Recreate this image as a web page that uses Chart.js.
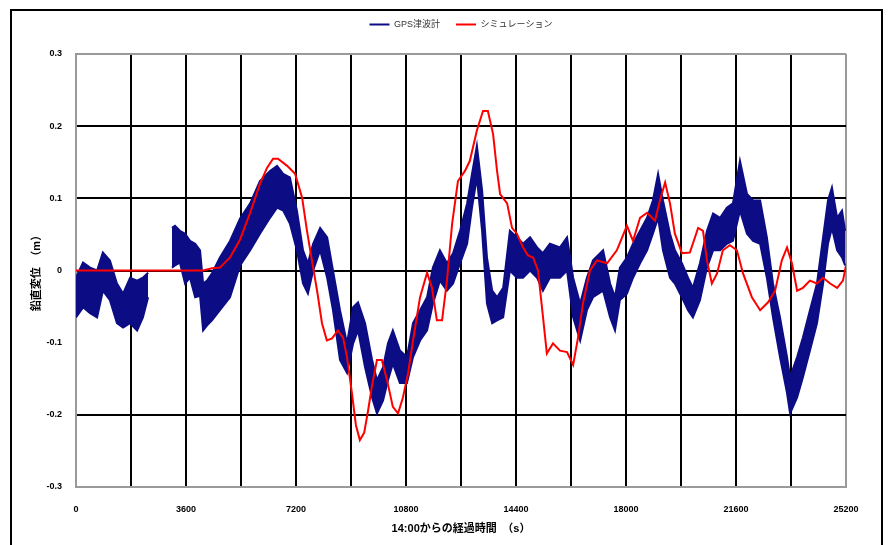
<!DOCTYPE html>
<html lang="ja">
<head>
<meta charset="utf-8">
<title>GPS津波計とシミュレーション</title>
<script src="https://cdn.jsdelivr.net/npm/chart.js@4.4.1/dist/chart.umd.min.js"></script>
<style>
  html, body { margin: 0; padding: 0; background: #fff; overflow: hidden; }
  #wrap { position: relative; width: 889px; height: 545px; }
  #frame { position: absolute; left: 10px; top: 9px; width: 873px; height: 600px; border: 2px solid #000; box-sizing: border-box; }
  #chart { position: absolute; left: 0; top: 0; }
</style>
</head>
<body>
<div id="wrap">
  <div id="frame"></div>
  <canvas id="chart" width="889" height="545"></canvas>
</div>
<script>
// 14:00からの経過時間 (s) — GPS津波計は高周波の揺れが帯状に見えるので上端と下端を読み取った
const gpsTime = [
  0, 230, 460, 690, 880, 1110, 1340, 1540, 1770, 2000, 2190, 2360,
  2700,
  3140, 3240, 3400, 3570, 3730, 3900, 4060, 4160, 4290, 4450, 4710, 5040,
  5370, 5700, 6020, 6350, 6580, 6780, 7000, 7230, 7430, 7590, 7760, 7990,
  8220, 8410, 8640, 8870, 9070, 9230, 9460, 9690, 9850, 10050, 10210, 10370,
  10600, 10830, 11030, 11260, 11490, 11680, 11910, 12140, 12340, 12570, 12800, 12960,
  13120, 13290, 13450, 13620, 13780, 13980, 14200, 14430, 14630, 14860, 15090, 15280,
  15510, 15840, 16070, 16270, 16500, 16720, 16920, 17250, 17480, 17640, 17800, 18030,
  18230, 18460, 18690, 18880, 19050, 19210, 19440, 19600, 19830, 20030, 20190, 20420,
  20650, 20850, 21080, 21300, 21500, 21730, 21960, 22160, 22390, 22610, 22810, 23040,
  23270, 23370, 23600, 23790, 24020, 24250, 24450, 24610, 24740, 24910, 25070, 25170
];
const gpsUpper = [
  -0.010, 0.011, 0.004, 0.000, 0.025, 0.014, -0.018, -0.032, -0.010, -0.014, -0.010, -0.003,
  null,
  0.059, 0.062, 0.055, 0.051, 0.041, 0.037, 0.028, -0.018, -0.014, -0.004, 0.018, 0.041,
  0.072, 0.093, 0.124, 0.138, 0.145, 0.134, 0.129, 0.083, 0.028, 0.010, 0.037, 0.059,
  0.046, 0.000, -0.055, -0.101, -0.051, -0.044, -0.073, -0.124, -0.152, -0.134, -0.101, -0.083,
  -0.111, -0.120, -0.073, -0.055, -0.037, 0.004, 0.028, 0.010, 0.024, 0.055, 0.093, 0.134,
  0.173, 0.111, 0.018, -0.028, -0.037, -0.024, 0.055, 0.046, 0.037, 0.046, 0.032, 0.024,
  0.037, 0.032, 0.046, -0.010, -0.046, -0.010, 0.014, 0.028, -0.018, -0.037, 0.004, 0.018,
  0.037, 0.055, 0.073, 0.097, 0.134, 0.097, 0.051, 0.028, 0.010, -0.010, -0.024, 0.010,
  0.055, 0.079, 0.073, 0.087, 0.093, 0.152, 0.106, 0.097, 0.097, 0.046, -0.018, -0.065,
  -0.120, -0.148, -0.120, -0.093, -0.055, -0.018, 0.046, 0.097, 0.115, 0.073, 0.083, 0.055
];
const gpsLower = [
  -0.065, -0.051, -0.059, -0.065, -0.028, -0.041, -0.073, -0.079, -0.073, -0.083, -0.065, -0.037,
  null,
  0.004, 0.007, 0.011, -0.018, -0.010, -0.037, -0.035, -0.083, -0.076, -0.069, -0.055, -0.037,
  0.007, 0.028, 0.051, 0.073, 0.087, 0.083, 0.065, 0.028, -0.018, -0.032, 0.000, 0.028,
  -0.010, -0.055, -0.124, -0.142, -0.101, -0.083, -0.134, -0.176, -0.198, -0.180, -0.152, -0.129,
  -0.156, -0.156, -0.120, -0.097, -0.083, -0.046, -0.014, -0.028, -0.018, 0.010, 0.037, 0.087,
  0.129, 0.055, -0.046, -0.073, -0.069, -0.065, 0.000, -0.010, -0.010, 0.000, -0.010, -0.028,
  -0.010, -0.010, 0.000, -0.065, -0.097, -0.055, -0.037, -0.028, -0.065, -0.083, -0.041, -0.032,
  -0.010, 0.010, 0.028, 0.051, 0.073, 0.028, -0.010, -0.018, -0.037, -0.055, -0.065, -0.041,
  0.004, 0.028, 0.028, 0.037, 0.041, 0.083, 0.051, 0.041, 0.037, -0.010, -0.065, -0.120,
  -0.170, -0.198, -0.176, -0.148, -0.111, -0.073, -0.018, 0.037, 0.059, 0.028, 0.018, 0.007
];

// シミュレーション
const simTime = [
  0, 4160, 4450, 4710, 5040, 5370, 5700, 6020, 6250, 6450, 6610, 6910,
  7170, 7400, 7560, 7720, 7890, 8050, 8210, 8380, 8570, 8740, 8870, 9030,
  9160, 9290, 9430, 9560, 9690, 9850, 10010, 10180, 10370, 10540, 10700, 10870,
  11030, 11260, 11490, 11650, 11810, 11980, 12140, 12310, 12500, 12730, 12890, 13120,
  13320, 13480, 13650, 13780, 13880, 14110, 14270, 14430, 14630, 14790, 14960, 15120,
  15250, 15410, 15610, 15840, 16070, 16270, 16430, 16590, 16820, 17050, 17380, 17700,
  18030, 18230, 18460, 18690, 18950, 19110, 19280, 19440, 19600, 19830, 20090, 20360,
  20520, 20650, 20810, 20980, 21170, 21400, 21630, 21830, 22120, 22390, 22650, 22880,
  23100, 23270, 23430, 23600, 23790, 24020, 24250, 24450, 24680, 24910, 25100, 25200
];
const simValue = [
  0.000, 0.000, 0.003, 0.004, 0.018, 0.043, 0.080, 0.120, 0.142, 0.155, 0.155, 0.145,
  0.134, 0.101, 0.055, 0.014, -0.028, -0.073, -0.097, -0.094, -0.083, -0.093, -0.120, -0.170,
  -0.214, -0.235, -0.225, -0.194, -0.159, -0.124, -0.124, -0.152, -0.189, -0.198, -0.176, -0.142,
  -0.097, -0.037, -0.003, -0.024, -0.069, -0.069, -0.014, 0.065, 0.124, 0.138, 0.152, 0.194,
  0.221, 0.221, 0.189, 0.138, 0.106, 0.093, 0.059, 0.051, 0.032, 0.021, 0.018, 0.000,
  -0.051, -0.115, -0.101, -0.111, -0.113, -0.131, -0.093, -0.046, 0.000, 0.014, 0.010, 0.028,
  0.062, 0.041, 0.073, 0.080, 0.069, 0.097, 0.122, 0.093, 0.051, 0.024, 0.025, 0.059,
  0.055, 0.014, -0.018, -0.004, 0.028, 0.035, 0.028, -0.004, -0.037, -0.055, -0.044, -0.028,
  0.014, 0.032, 0.010, -0.028, -0.024, -0.014, -0.018, -0.010, -0.018, -0.024, -0.014, 0.007
];

const xTickLabels = [0, 3600, 7200, 10800, 14400, 18000, 21600, 25200];
const yTickLabels = ['-0.3', '-0.2', '-0.1', '0', '0.1', '0.2', '0.3'];

const toPoints = (times, values) => times.map((t, i) => ({ x: t, y: values[i] }));

const baseFont = '"Liberation Sans", Arial, "Noto Sans CJK JP", sans-serif';
const navy = '#0c0c84';
const red = '#ff0000';
const edgeGray = '#9a9a9a';

// 凡例の下に余白を足す
const legendGap = {
    id: 'legendGap',
    beforeInit(chart) {
        const fit = chart.legend.fit;
        chart.legend.fit = function () {
            fit.bind(chart.legend)();
            this.height += 15;
        };
    }
};

const ctx = document.getElementById('chart').getContext('2d');
new Chart(ctx, {
    type: 'line',
    data: {
        datasets: [
            {
                label: 'GPS津波計',
                data: toPoints(gpsTime, gpsUpper),
                borderColor: navy,
                backgroundColor: navy,
                borderWidth: 2,
                pointRadius: 0,
                fill: false,
                order: 1
            },
            {
                label: 'gps-lower',
                data: toPoints(gpsTime, gpsLower),
                borderColor: navy,
                backgroundColor: navy,
                borderWidth: 2,
                pointRadius: 0,
                fill: '-1',
                order: 2
            },
            {
                label: 'シミュレーション',
                data: toPoints(simTime, simValue),
                borderColor: red,
                backgroundColor: red,
                borderWidth: 2,
                pointRadius: 0,
                fill: false,
                order: 0
            }
        ]
    },
    options: {
        responsive: false,
        animation: false,
        spanGaps: false,
        layout: { padding: { left: 20, right: 43, top: 4, bottom: 0 } },
        plugins: {
            tooltip: { enabled: false },
            legend: {
                position: 'top',
                fullSize: false,
                labels: {
                    usePointStyle: true,
                    pointStyle: 'line',
                    pointStyleWidth: 20,
                    boxHeight: 9,
                    padding: 16,
                    color: '#333',
                    font: { family: baseFont, size: 9 },
                    filter: (item) => item.text !== 'gps-lower',
                    sort: (a, b) => a.datasetIndex - b.datasetIndex
                }
            }
        },
        scales: {
            x: {
                type: 'linear',
                min: 0,
                max: 25200,
                afterFit: (scale) => { scale.height = 58; },
                ticks: {
                    stepSize: 1800,
                    autoSkip: false,
                    maxRotation: 0,
                    padding: 17,
                    color: '#000',
                    font: { family: baseFont, size: 9, weight: 'bold' },
                    callback: (v) => xTickLabels.includes(v) ? String(v) : ''
                },
                grid: {
                    drawTicks: false,
                    lineWidth: 2,
                    color: (c) => (c.tick && (c.tick.value === 0 || c.tick.value === 25200)) ? edgeGray : '#000'
                },
                border: { color: edgeGray, width: 2 },
                title: {
                    display: true,
                    text: '14:00からの経過時間　（s）',
                    color: '#000',
                    padding: { top: 4, bottom: 9 },
                    font: { family: baseFont, size: 11, weight: 'bold' }
                }
            },
            y: {
                min: -0.3,
                max: 0.3,
                afterFit: (scale) => { scale.width = 56; },
                ticks: {
                    stepSize: 0.1,
                    padding: 14,
                    color: '#000',
                    font: { family: baseFont, size: 9, weight: 'bold' },
                    callback: (v) => yTickLabels[Math.round(v * 10) + 3]
                },
                grid: {
                    drawTicks: false,
                    lineWidth: 2,
                    color: (c) => {
                        const v = c.tick ? Math.round(c.tick.value * 10) : 0;
                        if (v === 3 || v === -3) return edgeGray;
                        if (v === -1) return 'rgba(0,0,0,0)';
                        return '#000';
                    }
                },
                border: { color: edgeGray, width: 2 },
                title: {
                    display: true,
                    text: '鉛直変位　（m）',
                    color: '#000',
                    padding: { top: 10, bottom: 0 },
                    font: { family: baseFont, size: 11, weight: 'bold' }
                }
            }
        }
    },
    plugins: [legendGap]
});
</script>
</body>
</html>
